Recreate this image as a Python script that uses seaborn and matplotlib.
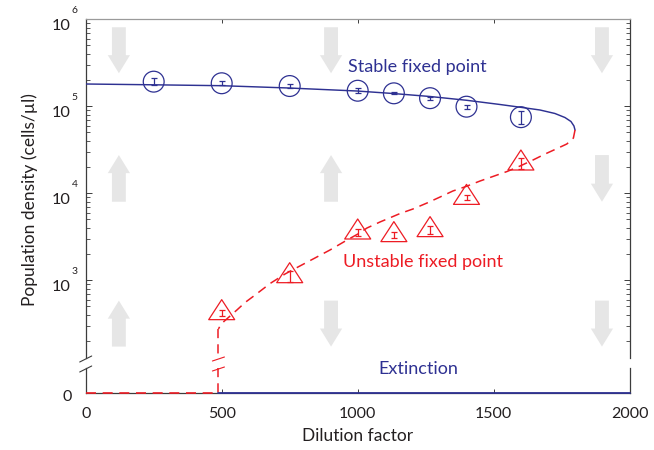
import numpy as np
import pandas as pd
import matplotlib
matplotlib.use("Agg")
import matplotlib.pyplot as plt
import matplotlib.transforms as mtransforms
from matplotlib.lines import Line2D
from matplotlib.path import Path
from matplotlib.patches import FancyArrowPatch
from matplotlib.ticker import NullFormatter, LogLocator
import seaborn as sns

# ---- measured fixed points (mean +/- s.e.m.) ----
dilution = [250, 500, 750, 1000, 1133, 1266, 1400, 1600]
stable_density = [1.92e5, 1.84e5, 1.71e5, 1.51e5, 1.41e5, 1.24e5, 9.9e4, 7.5e4]
stable_err = [18500, 9900, 10600, 10300, 3800, 5000, 5300, 12700]

unstable_dilution = [500, 750, 1000, 1133, 1266, 1400, 1600]
unstable_density = [421, 1120, 3560, 3320, 3790, 8900, 2.21e4]
unstable_err = [35, 157, 325, 272, 424, 550, 3100]

# ---- model branches of the fold bifurcation ----
stable_curve_x = [0, 247, 500, 747, 997, 1130, 1266, 1401, 1523, 1599, 1670,
                  1725, 1762, 1784, 1795, 1799]
stable_curve_y = [180400, 176700, 172500, 162300, 149900, 140300, 129600,
                  117200, 104900, 97400, 90700, 82700, 74300, 66900, 59400, 53400]

unstable_curve_x = [1799, 1793, 1769, 1733, 1689, 1644, 1597, 1549, 1497, 1450,
                    1398, 1350, 1303, 1255, 1203, 1156, 1082, 1034, 1001, 961,
                    898, 843, 777, 733, 678, 623, 586, 556, 531, 508, 494, 488]
unstable_curve_y = [53400, 43200, 36900, 32700, 28300, 24100, 20600, 17800,
                    15600, 13850, 11970, 10630, 9070, 7740, 6600, 5860, 4680,
                    3990, 3410, 2905, 2230, 1805, 1403, 1182, 919, 678, 556,
                    456, 389, 336, 298, 276]
collapse_dilution = 488

# ---- flow direction arrows ----
arrow_columns = [122, 902, 1898]
arrow_rows = [(8.1e5, 2.4e5), (2.75e4, 8.0e3), (584, 173)]  # (top, bottom)
arrow_directions = [["down", "up", "up"],
                    ["down", "up", "down"],
                    ["down", "down", "down"]]

x_ticks = [0, 500, 1000, 1500, 2000]
y_decades = [3, 4, 5, 6]

BLUE = "#2e3192"
RED = "#ed1c24"
ARROW = "#e6e6e6"
SPINE = "#3c3c3c"
TEXT = "#231f20"

sns.set_style("ticks")
plt.rcParams["font.family"] = ["Lato", "DejaVu Sans"]
plt.rcParams["text.color"] = TEXT
plt.rcParams["axes.labelcolor"] = TEXT
plt.rcParams["xtick.color"] = SPINE
plt.rcParams["ytick.color"] = SPINE
plt.rcParams["xtick.labelcolor"] = TEXT
plt.rcParams["ytick.labelcolor"] = TEXT

W, H = 654, 450
fig = plt.figure(figsize=(W / 100, H / 100), dpi=100)


def fx(px):
    return px / W


def fy(py):
    return 1 - py / H


left_px, right_px = 85.7, 629.7
top_px, brk_top_px, brk_bot_px, zero_px = 19.3, 358.0, 368.0, 392.7
px_per_decade = 87.0
log_bottom = 6 - (brk_top_px - top_px) / px_per_decade

ax = fig.add_axes([fx(left_px), fy(brk_top_px), fx(right_px) - fx(left_px),
                   fy(top_px) - fy(brk_top_px)])
axb = fig.add_axes([fx(left_px), fy(zero_px), fx(right_px) - fx(left_px),
                    fy(brk_bot_px) - fy(zero_px)], sharex=ax)

ax.set_yscale("log")
ax.set_xlim(0, 2000)
ax.set_ylim(10 ** log_bottom, 1e6)
axb.set_ylim(0, 1)

# background flow arrows
for cx, dirs in zip(arrow_columns, arrow_directions):
    for (ytop, ybot), d in zip(arrow_rows, dirs):
        tail, head = ((cx, ybot), (cx, ytop)) if d == "up" else ((cx, ytop), (cx, ybot))
        ax.add_patch(FancyArrowPatch(
            tail, head,
            arrowstyle="simple,head_length=13,head_width=16,tail_width=10",
            mutation_scale=1, shrinkA=0, shrinkB=0,
            color=ARROW, lw=0, zorder=0))

# model curves
sns.lineplot(x=stable_curve_x, y=stable_curve_y, ax=ax, sort=False,
             estimator=None, color=BLUE, lw=1.05, zorder=3)
sns.lineplot(x=unstable_curve_x, y=unstable_curve_y, ax=ax, sort=False,
             estimator=None, color=RED, lw=1.1, linestyle=(0, (6, 4)), zorder=3)
sns.lineplot(x=[collapse_dilution, collapse_dilution],
             y=[unstable_curve_y[-1], 10 ** log_bottom], ax=ax, sort=False,
             estimator=None, color=RED, lw=1.1, linestyle=(0, (6, 4)),
             zorder=3, clip_on=False)

# extinction state on the lower panel
sns.lineplot(x=[collapse_dilution, collapse_dilution], y=[1, 0], ax=axb,
             sort=False, estimator=None, color=RED, lw=1.1,
             linestyle=(0, (6, 4)), zorder=3, clip_on=False)
sns.lineplot(x=[0, collapse_dilution], y=[0, 0], ax=axb, sort=False,
             estimator=None, color=RED, lw=1.2, linestyle=(0, (6, 4)),
             zorder=4, clip_on=False)
sns.lineplot(x=[collapse_dilution, 2000], y=[0, 0], ax=axb, sort=False,
             estimator=None, color=BLUE, lw=1.3, zorder=4, clip_on=False)

# experimental points
ax.errorbar(dilution, stable_density, yerr=stable_err, fmt="none",
            ecolor=BLUE, elinewidth=0.9, capsize=2.4, capthick=0.9, zorder=4)
sns.scatterplot(x=dilution, y=stable_density, ax=ax, marker="o", s=225,
                fc="none", ec=BLUE, linewidth=0.9, zorder=5)

tri = Path([(0, 2), (-1.95, -1), (1.95, -1), (0, 2)], closed=True)
ax.errorbar(unstable_dilution, unstable_density, yerr=unstable_err,
            fmt="none", ecolor=RED, elinewidth=0.9, capsize=2.4,
            capthick=0.9, zorder=4)
sns.scatterplot(x=unstable_dilution, y=unstable_density, ax=ax, marker=tri,
                s=19.2 ** 2, fc="none", ec=RED, linewidth=0.9, zorder=5)

# annotations
ax.text(964, 2.85e5, "Stable fixed point", color=BLUE, fontsize=13,
        ha="left", va="center")
ax.text(947, 1637, "Unstable fixed point", color=RED, fontsize=13,
        ha="left", va="center")
axb.text(1075, 0.97, "Extinction", color=BLUE, fontsize=13, ha="left",
         va="center", transform=axb.get_xaxis_transform())

# ---- axes styling ----
for a in (ax, axb):
    for s in a.spines.values():
        s.set_color(SPINE)
        s.set_linewidth(0.9)
ax.spines["bottom"].set_visible(False)
ax.spines["top"].set_color("#9a9a9a")
axb.spines["top"].set_visible(False)

ax.set_yticks([10.0 ** d for d in y_decades])
ax.yaxis.set_minor_locator(LogLocator(base=10, subs=np.arange(2, 10)))
ax.yaxis.set_major_formatter(NullFormatter())
ax.yaxis.set_minor_formatter(NullFormatter())
ax.tick_params(axis="y", which="major", direction="in", length=4.3, width=0.7,
               left=True, right=True)
ax.tick_params(axis="y", which="minor", direction="in", length=2.6, width=0.6,
               left=True, right=True)
ax.tick_params(axis="x", which="both", direction="in", length=3, width=0.7,
               top=True, bottom=False, labeltop=False, labelbottom=False)
ax.set_xticks([500, 1000, 1500])
ax.set_xlabel("")
ax.set_ylabel("")

axb.set_xticks(x_ticks)
axb.set_xticklabels([str(t) for t in x_ticks])
axb.set_yticks([0])
axb.set_yticklabels(["0"])
axb.tick_params(axis="x", direction="in", length=3.2, width=0.7, pad=10.5,
                labelsize=11.5, top=False)
axb.tick_params(axis="y", direction="in", length=0, pad=10, labelsize=11.5)
axb.set_xlabel("Dilution factor", fontsize=12.5, labelpad=5)
axb.set_ylabel("")
zero_shift = mtransforms.ScaledTranslation(0, -0.03, fig.dpi_scale_trans)
for lab in axb.get_yticklabels():
    lab.set_transform(lab.get_transform() + zero_shift)

# decade labels on the log axis
ytrans = ax.get_yaxis_transform()
for d in y_decades:
    off_base = mtransforms.ScaledTranslation(-0.15, -0.065, fig.dpi_scale_trans)
    off_exp = mtransforms.ScaledTranslation(-0.14, 0.09, fig.dpi_scale_trans)
    ax.text(0, 10.0 ** d, "10", transform=ytrans + off_base, ha="right",
            va="center", fontsize=11.8)
    ax.text(0, 10.0 ** d, str(d), transform=ytrans + off_exp, ha="left",
            va="center", fontsize=7.5)

fig.text(fx(30), fy(200), "Population density (cells/\u00b5l)", rotation=90,
         ha="center", va="center", fontsize=12.5)

# axis break marks
for yc in (brk_top_px + 1.0, brk_bot_px + 1.0):
    fig.add_artist(Line2D([fx(left_px - 6), fx(left_px + 6)],
                          [fy(yc + 3), fy(yc - 3)], color=SPINE, lw=0.8))
    xr = left_px + collapse_dilution * (right_px - left_px) / 2000
    fig.add_artist(Line2D([fx(xr - 6), fx(xr + 6)], [fy(yc + 2), fy(yc - 2)],
                          color=RED, lw=0.8))

fig.savefig("out.png", dpi=100)
